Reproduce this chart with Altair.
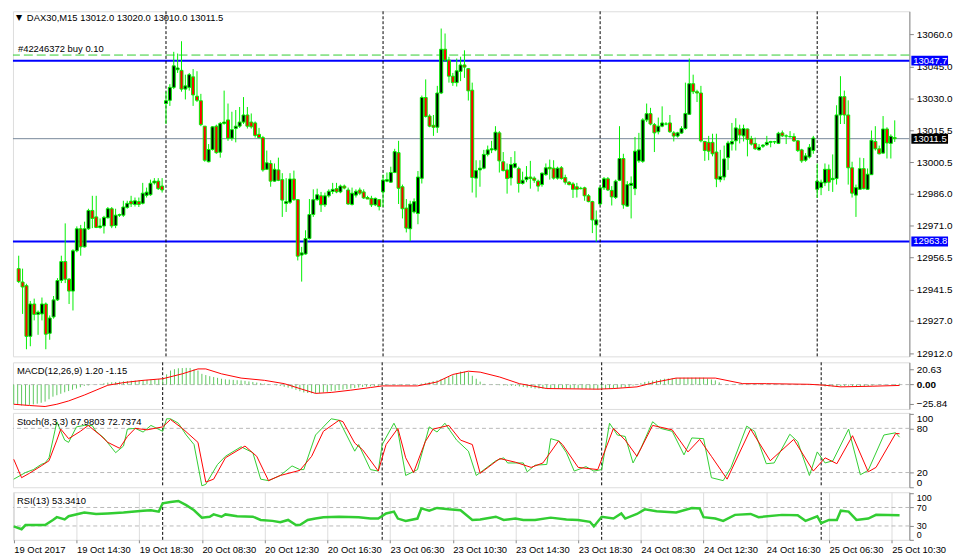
import pandas as pd
import altair as alt

# ---------------- data ----------------
opens = [
12951.2, 12945.0, 12943.3, 12919.8, 12934.8, 12930.0, 12930.2, 12934.8, 12921.2, 12928.8,
12936.7, 12945.7, 12954.5, 12946.3, 12940.8, 12959.5, 12969.7, 12961.3, 12969.7, 12978.2,
12975.2, 12970.3, 12971.0, 12974.8, 12979.0, 12971.2, 12976.0, 12976.0, 12979.6, 12982.5,
12981.0, 12982.3, 12981.5, 12985.2, 12985.5, 12991.0, 12991.8, 12989.5, 13027.8, 13029.3,
13035.3, 13043.5, 13043.2, 13034.5, 13035.3, 13040.2, 13031.2, 13029.1, 13017.3, 13000.8,
13006.5, 13017.3, 13005.2, 13018.6, 13020.2, 13011.7, 13016.2, 13017.3, 13019.2, 13022.5,
13019.2, 13018.8, 13013.5, 13012.0, 12997.3, 13000.0, 12991.8, 12997.0, 12992.5, 12981.4,
12982.0, 12992.8, 12983.2, 12957.5, 12958.0, 12965.2, 12976.3, 12983.2, 12985.0, 12980.8,
12985.0, 12987.0, 12988.3, 12986.8, 12989.5, 12987.7, 12981.0, 12985.3, 12987.7, 12986.8,
12984.2, 12983.8, 12980.8, 12983.2, 12986.8, 12991.8, 12991.3, 12995.8, 13005.0, 12989.2,
12979.3, 12969.7, 12977.5, 12976.8, 12993.1, 13030.6, 13022.0, 13017.7, 13016.8, 13032.7,
13053.0, 13048.0, 13040.5, 13037.5, 13042.7, 13045.7, 13044.0, 13034.0, 12993.2, 12997.0,
12997.8, 13004.2, 13006.3, 13006.3, 13014.2, 13000.8, 12997.0, 12993.3, 12998.2, 12997.6,
12990.7, 12992.5, 12993.7, 12993.2, 12991.8, 12990.2, 12994.8, 12998.2, 12997.8, 12993.2,
12998.0, 12993.5, 12991.3, 12990.5, 12989.2, 12988.5, 12988.7, 12985.0, 12982.3, 12971.5,
12981.2, 12988.7, 12992.9, 12987.5, 12984.2, 12992.2, 13002.3, 12980.2, 12989.8, 12988.3,
13001.2, 13001.0, 13020.2, 13023.1, 13018.0, 13014.7, 13017.3, 13018.3, 13018.8, 13014.2,
13012.7, 13014.1, 13016.2, 13022.8, 13037.0, 13033.3, 13032.7, 13010.2, 13009.8, 13009.8,
13005.3, 12992.5, 12993.7, 13002.7, 13009.0, 13010.5, 13016.0, 13012.8, 13016.0, 13011.5,
13009.3, 13006.3, 13008.0, 13008.7, 13009.8, 13010.0, 13009.3, 13014.2, 13012.8, 13012.5,
13012.5, 13010.5, 13006.3, 13001.5, 13003.0, 13006.0, 12988.0, 12988.8, 12991.0, 12997.3,
12992.5, 12993.0, 13022.5, 13031.0, 13022.5, 12998.0, 12985.3, 12988.0, 12997.6, 12988.0,
12994.8, 13010.2, 13006.8, 13004.8, 13016.0, 13009.3, 13012.0]

highs = [
12957.2, 12951.2, 12944.2, 12936.2, 12937.3, 12931.8, 12937.8, 12935.5, 12929.5, 12938.5,
12946.8, 12957.2, 12972.2, 12946.8, 12960.2, 12970.8, 12971.5, 12973.0, 12979.0, 12985.0,
12985.0, 12974.5, 12975.7, 12979.8, 12979.8, 12979.0, 12976.7, 12982.7, 12982.7, 12985.0,
12984.2, 12984.2, 12991.0, 12988.8, 12992.5, 12993.2, 12993.2, 12993.2, 13033.3, 13036.8,
13051.8, 13051.0, 13056.7, 13041.2, 13042.0, 13043.8, 13042.8, 13032.3, 13017.3, 13009.0,
13017.3, 13018.0, 13019.2, 13033.8, 13027.8, 13024.0, 13024.8, 13026.2, 13030.8, 13026.2,
13023.2, 13019.5, 13016.5, 13012.8, 13006.0, 13001.5, 13000.0, 13002.7, 12995.5, 12993.2,
12995.5, 12996.7, 12983.5, 12961.3, 12969.0, 12983.5, 12988.0, 12988.3, 12986.8, 12986.5,
12988.0, 12991.0, 12991.0, 12990.2, 12990.2, 12988.8, 12988.8, 12988.0, 12988.8, 12988.0,
12985.0, 12985.0, 12984.2, 12983.5, 12994.8, 12995.8, 12998.5, 13006.8, 13010.5, 12990.2,
12983.5, 12982.7, 12983.8, 12996.5, 13031.5, 13039.0, 13022.8, 13022.5, 13036.0, 13062.6,
13060.3, 13049.5, 13042.0, 13048.7, 13049.5, 13052.5, 13044.3, 13037.5, 13001.5, 13001.5,
13006.3, 13008.3, 13010.5, 13017.3, 13015.0, 13005.3, 13000.0, 13003.0, 13005.7, 12998.5,
12996.2, 12998.8, 13001.2, 12994.0, 12992.5, 12995.8, 13000.0, 13001.8, 13001.5, 12998.5,
12998.8, 12994.8, 12991.8, 12991.3, 12991.0, 12989.2, 12989.2, 12985.8, 12982.7, 12978.2,
12989.5, 12993.7, 12993.7, 12989.5, 12992.5, 13017.3, 13004.5, 12991.8, 12994.0, 13012.3,
13014.2, 13021.0, 13027.8, 13025.8, 13018.8, 13021.3, 13026.5, 13019.2, 13022.5, 13015.0,
13014.7, 13017.3, 13037.5, 13048.7, 13041.2, 13034.2, 13036.0, 13010.5, 13012.8, 13013.8,
13013.8, 13006.3, 13008.3, 13010.5, 13018.8, 13021.0, 13018.0, 13018.0, 13016.2, 13012.8,
13012.0, 13009.0, 13009.0, 13012.8, 13010.5, 13010.5, 13014.7, 13015.3, 13013.5, 13015.0,
13014.0, 13010.8, 13006.8, 13004.8, 13009.0, 13012.8, 13000.0, 12992.5, 13000.0, 12999.5,
13004.2, 13027.0, 13040.5, 13033.8, 13029.3, 13000.8, 12990.2, 13002.7, 13002.5, 12997.7,
13015.3, 13017.3, 13008.3, 13022.0, 13016.8, 13013.5, 13020.0]

lows = [
12944.5, 12930.2, 12913.8, 12915.2, 12927.2, 12920.5, 12927.2, 12913.8, 12918.2, 12928.0,
12936.2, 12944.5, 12944.5, 12934.8, 12931.8, 12958.8, 12957.2, 12961.0, 12969.2, 12970.0,
12970.0, 12969.7, 12967.5, 12974.5, 12970.0, 12970.0, 12975.2, 12975.2, 12979.0, 12979.8,
12980.0, 12979.8, 12981.0, 12984.2, 12985.0, 12990.2, 12987.7, 12986.5, 13018.3, 13026.7,
13034.5, 13042.0, 13033.3, 13029.7, 13033.8, 13026.7, 13028.5, 13017.3, 13000.8, 13000.5,
13006.0, 13004.5, 13002.7, 13018.0, 13010.5, 13010.5, 13009.8, 13016.5, 13018.3, 13016.2,
13016.2, 13012.0, 13011.7, 12996.2, 12997.0, 12989.2, 12991.5, 12991.8, 12975.2, 12977.5,
12981.2, 12982.7, 12955.0, 12945.2, 12957.7, 12964.7, 12975.2, 12982.7, 12977.5, 12979.8,
12984.2, 12985.8, 12986.2, 12986.2, 12988.0, 12980.8, 12980.5, 12984.2, 12985.3, 12983.5,
12983.5, 12979.8, 12980.2, 12978.2, 12979.8, 12991.3, 12991.0, 12995.5, 12981.2, 12974.5,
12968.0, 12964.0, 12976.8, 12971.8, 12990.7, 13021.3, 13016.8, 13012.8, 13014.2, 13032.2,
13047.2, 13037.5, 13036.0, 13035.7, 13038.2, 13039.7, 13029.2, 12986.5, 12984.2, 12989.2,
12997.3, 13003.3, 13004.8, 13005.7, 12995.8, 12996.3, 12986.0, 12989.8, 12997.7, 12986.5,
12990.2, 12991.3, 12988.3, 12991.0, 12987.0, 12989.2, 12994.3, 12992.5, 12992.5, 12992.5,
12992.5, 12990.2, 12989.8, 12984.0, 12984.2, 12988.0, 12982.7, 12982.0, 12967.7, 12963.7,
12980.5, 12987.7, 12987.2, 12980.5, 12983.5, 12991.8, 12979.0, 12979.8, 12974.5, 12985.3,
13000.3, 13000.3, 13019.2, 13017.7, 13005.3, 13013.5, 13016.8, 13017.7, 13014.2, 13010.2,
13012.0, 13013.8, 13015.7, 13022.5, 13032.2, 13028.5, 13009.8, 13001.2, 13001.5, 13003.3,
12989.0, 12991.3, 12992.2, 12997.0, 13006.0, 13006.0, 13009.3, 13010.2, 13003.3, 13008.3,
13006.3, 13006.0, 13007.2, 13008.2, 13007.5, 13009.0, 13009.0, 13012.3, 13009.0, 13012.0,
13010.0, 13005.3, 13000.3, 13000.8, 13002.3, 13004.5, 12984.0, 12985.3, 12989.5, 12987.2,
12986.8, 12990.2, 13018.3, 13018.3, 12990.2, 12984.2, 12975.2, 12988.0, 12988.0, 12987.7,
12994.8, 13006.0, 13004.2, 13004.5, 13002.3, 13002.3, 13010.0]

closes = [
12945.2, 12942.7, 12919.8, 12934.8, 12930.0, 12931.0, 12934.8, 12920.8, 12928.3, 12936.7,
12945.7, 12954.5, 12946.3, 12940.8, 12959.5, 12969.7, 12961.3, 12969.7, 12978.2, 12974.5,
12970.3, 12971.0, 12975.0, 12979.0, 12971.0, 12976.0, 12976.3, 12979.8, 12981.5, 12981.2,
12982.7, 12981.0, 12986.2, 12986.7, 12990.8, 12991.8, 12988.3, 12987.7, 13029.1, 13035.3,
13045.3, 13044.3, 13034.5, 13036.0, 13041.2, 13031.8, 13029.3, 13018.0, 13001.5, 13006.5,
13017.0, 13005.0, 13018.6, 13019.2, 13011.7, 13015.7, 13017.3, 13019.2, 13022.5, 13017.3,
13017.0, 13013.0, 13012.0, 12997.0, 13000.3, 12991.8, 12997.3, 12992.2, 12983.0, 12982.3,
12992.8, 12983.2, 12957.0, 12958.5, 12965.2, 12976.3, 12983.2, 12985.5, 12980.8, 12985.0,
12987.1, 12988.0, 12986.8, 12989.5, 12988.6, 12981.2, 12986.2, 12987.1, 12986.2, 12984.0,
12983.5, 12980.8, 12983.8, 12980.0, 12992.3, 12992.5, 12995.8, 13005.5, 12988.5, 12979.0,
12970.0, 12981.2, 12982.3, 12993.7, 13030.6, 13021.8, 13017.3, 13016.8, 13032.7, 13053.0,
13048.0, 13040.5, 13037.5, 13043.0, 13045.7, 13044.7, 13033.7, 12993.5, 12996.7, 12997.8,
13004.2, 13006.3, 13006.8, 13014.5, 13001.2, 12996.7, 12993.0, 12999.5, 13000.0, 12990.7,
12992.2, 12993.7, 12993.0, 12992.2, 12989.5, 12995.5, 12998.0, 12997.5, 12993.2, 12997.8,
12993.0, 12991.3, 12990.2, 12988.0, 12988.0, 12988.3, 12985.0, 12982.3, 12973.8, 12973.8,
12988.7, 12992.9, 12987.7, 12984.5, 12991.8, 13002.3, 12980.8, 12990.2, 12990.8, 13005.7,
13006.3, 13020.2, 13023.1, 13018.3, 13014.2, 13017.3, 13018.8, 13018.3, 13014.7, 13012.7,
13014.2, 13016.2, 13023.2, 13037.0, 13033.3, 13032.7, 13010.5, 13006.0, 13005.7, 13004.5,
12992.8, 12994.0, 13002.1, 13009.5, 13010.2, 13016.5, 13013.2, 13016.2, 13011.2, 13009.0,
13006.8, 13007.5, 13008.5, 13009.8, 13010.2, 13010.1, 13014.0, 13012.8, 13012.7, 13012.4,
13010.5, 13006.0, 13001.2, 13003.5, 13007.5, 13011.8, 12991.8, 12991.3, 12997.3, 12991.3,
12993.1, 13022.5, 13031.0, 13022.5, 12998.0, 12986.2, 12988.8, 12997.6, 12988.3, 12995.0,
13010.8, 13006.8, 13004.5, 13016.0, 13009.5, 13012.6, 13011.5]

# MACD main (histogram), one value per bar
macd_hist = [
-26.8, -27.5, -28.5, -28.2, -27.7, -27.0, -26.0, -24.8, -23.2, -20.0,
-16.5, -14.5, -12.5, -10.5, -8.8, -7.0, -5.4, -3.6, -1.8, -1.2,
-0.5, 0.0, 0.9, 1.8, 2.7, 3.2, 3.6, 4.0, 4.5, 4.8,
5.2, 5.5, 5.8, 6.1, 6.4, 6.8, 7.1, 7.5, 8.9, 14.0,
19.2, 21.0, 22.3, 22.6, 22.8, 22.7, 21.0, 19.2, 14.7, 13.0,
11.5, 10.3, 9.2, 8.0, 7.1, 6.8, 6.4, 6.0, 5.8, 5.1,
4.3, 3.6, 2.8, 2.0, 1.3, 0.5, -0.3, -1.0, -1.8, -3.0,
-4.2, -5.4, -7.2, -9.0, -10.7, -11.5, -11.8, -12.0, -11.4, -10.7,
-9.9, -9.0, -8.3, -7.6, -6.9, -6.1, -5.4, -4.6, -3.9, -3.1,
-2.8, -2.4, -2.1, -1.8, -0.9, -0.9, -0.9, -0.9, -0.9, -0.9,
-0.9, -0.9, -0.2, 0.5, 1.3, 2.4, 3.5, 4.7, 5.8, 7.3,
8.8, 10.3, 12.8, 15.3, 17.8, 17.5, 17.0, 12.0, 8.0, 4.0,
1.0, 0.0, -0.3, -0.5, -0.8, -1.0, -1.3, -1.5, -1.8, -2.5,
-3.2, -4.0, -4.7, -5.4, -5.4, -5.4, -5.4, -5.4, -5.4, -5.4,
-5.4, -5.4, -5.4, -5.4, -5.4, -5.7, -6.0, -6.2, -6.5, -6.7,
-6.4, -6.0, -5.7, -5.4, -4.8, -4.2, -3.6, -3.1, -1.4, 0.3,
2.0, 3.6, 4.5, 5.4, 6.2, 7.1, 8.0, 8.3, 8.6, 8.9,
9.2, 9.4, 9.4, 9.4, 9.4, 9.4, 9.4, 8.2, 7.0, 5.8,
3.0, 0.0, 0.5, 0.5, 0.5, 0.5, 0.5, 0.5, 0.5, 0.5,
0.5, 0.5, 0.5, 0.5, 0.5, 0.5, 0.5, 0.5, 0.5, 0.5,
0.5, 0.5, 0.5, 0.3, 0.0, -0.5, -1.5, -2.5, -2.5, -2.5,
-2.5, -2.5, -2.0, -1.5, -2.0, -2.5, -2.5, -2.5, -2.0, -1.5,
-1.0, -0.5, -0.5, 0.0, 0.5, 0.8, 1.2]

# MACD signal line (bar index, value)
sig_idx = [0, 4, 8, 11, 14, 18, 21, 24, 28, 33, 38, 43, 47, 49, 53, 58, 64, 69, 73, 77,
           81, 86, 91, 94, 103, 108, 112, 116, 119, 124, 129, 136, 149, 153, 159, 164, 169, 179, 186, 192,
           203, 207, 211, 219, 226]
sig_val = [-26.8, -28.5, -29.9, -26.8, -22.3, -14.3, -7.6, -0.9, 2.7, 5.8, 8.0, 14.7, 21.4, 21.4, 14.7, 8.9, 5.8, 1.3, -5.4, -12.0,
           -10.7, -7.6, -4.0, -1.8, -1.8, 3.6, 13.8, 18.3, 17.0, 10.3, 1.3, -5.4, -6.2, -5.4, -3.1, 3.6, 8.9, 8.9, 1.3, 1.3,
           0.4, -0.9, -3.1, -2.2, -1.15]

# Stochastic %K (green)
stk_idx = [0, 3, 5, 7, 8, 9, 11, 13, 14, 16, 18, 20, 21, 23, 26, 28, 29, 31, 33, 35,
           38, 39, 40, 42, 44, 46, 48, 49, 52, 54, 58, 61, 63, 65, 68, 71, 73, 74, 77, 79,
           81, 83, 87, 88, 91, 93, 94, 97, 98, 100, 103, 106, 108, 110, 113, 116, 118, 119, 123, 125,
           126, 130, 131, 133, 136, 137, 139, 141, 143, 146, 148, 150, 152, 154, 156, 158, 160, 163, 165, 168,
           171, 173, 176, 178, 181, 183, 187, 189, 192, 194, 198, 200, 203, 205, 207, 209, 213, 216, 218, 222,
           225, 226]
stk_val = [11, 20, 24, 31, 33, 40, 89, 64, 61, 82, 84, 84, 76, 67, 47, 56, 79, 80, 75, 84,
           76, 93, 93, 87, 71, 58, 2, 4, 31, 42, 55, 47, 11, 9, 16, 29, 24, 24, 71, 82,
           93, 91, 49, 58, 24, 22, 58, 87, 76, 16, 24, 82, 75, 87, 64, 49, 16, 20, 36, 40,
           33, 33, 21, 30, 31, 66, 63, 47, 22, 28, 22, 24, 87, 71, 69, 33, 53, 89, 80, 76,
           44, 67, 66, 13, 9, 27, 83, 76, 32, 33, 72, 62, 16, 48, 33, 36, 79, 17, 23, 71,
           74, 67.98]

# Stochastic %D (red)
std_idx = [0, 2, 4, 7, 9, 11, 12, 14, 17, 19, 22, 24, 27, 29, 31, 34, 38, 40, 43, 47,
           49, 51, 54, 59, 62, 65, 68, 73, 76, 79, 83, 84, 87, 89, 93, 95, 98, 100, 102, 105,
           107, 111, 114, 117, 119, 124, 128, 132, 135, 139, 140, 144, 149, 153, 156, 159, 163, 168, 172, 175,
           178, 182, 188, 193, 199, 204, 207, 210, 214, 218, 220, 225, 226]
std_val = [38, 13, 19, 29, 36, 64, 79, 66, 76, 84, 71, 61, 53, 69, 80, 78, 82, 92, 80, 61,
           7, 11, 40, 56, 42, 9, 16, 23, 42, 76, 91, 89, 60, 51, 22, 58, 80, 40, 20, 62,
           79, 84, 64, 58, 19, 39, 34, 27, 33, 63, 58, 27, 24, 80, 64, 42, 84, 78, 48, 65,
           42, 11, 79, 36, 65, 22, 40, 32, 70, 21, 27, 73, 72.74]

# RSI(13)
rsi_idx = [0, 2, 3, 8, 10, 11, 13, 14, 18, 21, 24, 28, 33, 35, 37, 38, 40, 42, 44, 46,
           48, 50, 51, 53, 54, 57, 61, 63, 66, 68, 70, 72, 73, 75, 77, 79, 83, 88, 91, 93,
           95, 97, 98, 100, 103, 104, 106, 108, 111, 114, 117, 119, 123, 125, 128, 130, 133, 137, 141, 144,
           147, 148, 150, 153, 155, 156, 159, 161, 164, 169, 173, 175, 176, 179, 181, 184, 188, 190, 196, 200,
           202, 205, 206, 208, 210, 211, 213, 215, 218, 220, 226]
rsi_val = [29, 23, 32, 32, 43, 49, 44, 51, 59, 56, 57, 59, 63, 64, 61, 79, 82, 84, 75, 64,
           48, 50, 55, 50, 55, 51, 50, 43, 41, 38, 43, 32, 32, 43, 46, 49, 50, 49, 46, 46,
           57, 61, 46, 41, 46, 68, 63, 69, 66, 64, 43, 44, 50, 43, 46, 43, 43, 48, 44, 43,
           39, 29, 50, 46, 57, 46, 56, 66, 62, 59, 69, 68, 49, 46, 41, 54, 56, 49, 54, 53,
           41, 51, 36, 43, 43, 63, 61, 43, 46, 54, 53.34]

separators = [38, 94, 150, 206]
tick_idx = [0, 16, 32, 48, 64, 80, 96, 112, 128, 144, 160, 176, 192, 208, 224]
tick_labels = ["19 Oct 2017", "19 Oct 14:30", "19 Oct 18:30", "20 Oct 08:30", "20 Oct 12:30",
               "20 Oct 16:30", "23 Oct 06:30", "23 Oct 10:30", "23 Oct 14:30", "23 Oct 18:30",
               "24 Oct 08:30", "24 Oct 12:30", "24 Oct 16:30", "25 Oct 06:30", "25 Oct 10:30"]
price_ticks = [13060.0, 13045.0, 13030.0, 13015.5, 13000.5, 12986.0, 12971.0,
               12956.5, 12941.5, 12927.0, 12912.0]
level_prices = [13047.7, 12963.8]
order_price = 13050.3
last_price = 13011.5
header_text = "DAX30,M15  13012.0 13020.0 13010.0 13011.5"
order_text = "#42246372 buy 0.10"
macd_text = "MACD(12,26,9) 1.20 -1.15"
stoch_text = "Stoch(8,3,3) 67.9803 72.7374"
rsi_text = "RSI(13) 53.3410"

# ---------------- layout / style ----------------
W = 904
H_MAIN, H_MACD, H_STOCH, H_RSI = 348, 47, 75, 48
FONT = "Liberation Sans"
FS = 9.5
CANDLE_GREEN = "#00f000"
LINE_GREEN = "#32cd32"

n = min(len(opens), len(highs), len(lows), len(closes))
candles = pd.DataFrame({
    "i": list(range(n)), "open": opens[:n], "high": highs[:n],
    "low": lows[:n], "close": closes[:n]})
candles["dir"] = ["up" if c >= o else "down" for o, c in zip(candles["open"], candles["close"])]

xscale = alt.Scale(domain=[-0.2, 228.5], nice=False, zero=False)
X_NO = alt.X("i:Q", scale=xscale, axis=None)

x_axis_bottom = alt.Axis(
    values=tick_idx,
    labelExpr="[" + ",".join("'%s'" % t for t in tick_labels) + "][indexof(["
              + ",".join(str(t) for t in tick_idx) + "], datum.value)]",
    labelAlign="left", labelBaseline="top", labelPadding=2, tickSize=3,
    labelFlush=False, labelOverlap=False, domain=False, title=None,
    labelFont=FONT, labelFontSize=FS)
X_BOT = alt.X("i:Q", scale=xscale, axis=x_axis_bottom)


def sep_layer(X):
    return alt.Chart(pd.DataFrame({"i": separators})).mark_rule(
        color="black", strokeDash=[3, 2], strokeWidth=1).encode(x=X)


def label_text(txt, x, y, size=FS, font=FONT):
    return alt.Chart(pd.DataFrame({"t": [txt]})).mark_text(
        align="left", baseline="middle", font=font, fontSize=size, color="black"
    ).encode(x=alt.value(x), y=alt.value(y), text="t:N")


# ---------- main price panel ----------
ymain = alt.Scale(domain=[12910.5, 13070.6], nice=False, zero=False)
ax_main = alt.Axis(orient="right", values=price_ticks, format=".1f", tickSize=4,
                   labelPadding=3, title=None, grid=False, labelFlush=False,
                   labelOverlap=False)


def YM(field):
    return alt.Y(field, scale=ymain, axis=ax_main, title=None)


levels = alt.Chart(pd.DataFrame({"p": level_prices})).mark_rule(
    color="#0000ff", strokeWidth=2).encode(y=YM("p:Q"))
order_line = alt.Chart(pd.DataFrame({"p": [order_price]})).mark_rule(
    color=LINE_GREEN, strokeWidth=1, strokeDash=[9, 4]).encode(y=YM("p:Q"))
last_line = alt.Chart(pd.DataFrame({"p": [last_price]})).mark_rule(
    color="#778899", strokeWidth=1).encode(y=YM("p:Q"))

wicks = alt.Chart(candles).mark_rule(color=CANDLE_GREEN, strokeWidth=1).encode(
    x=X_NO, y=YM("low:Q"), y2="high:Q")
bodies = alt.Chart(candles).mark_bar(width=3, stroke=CANDLE_GREEN, strokeWidth=1).encode(
    x=X_NO, y=YM("open:Q"), y2="close:Q",
    fill=alt.Fill("dir:N", scale=alt.Scale(domain=["up", "down"], range=["black", "red"]),
                  legend=None))

boxes = pd.DataFrame({"p": level_prices + [last_price],
                      "bg": ["#0000ff"] * len(level_prices) + ["#000000"]})
boxes["lo"] = boxes["p"] - 2.3
boxes["hi"] = boxes["p"] + 2.3
box_rect = alt.Chart(boxes).mark_rect().encode(
    x=alt.value(W + 2), x2=alt.value(W + 39), y=YM("lo:Q"), y2="hi:Q",
    color=alt.Color("bg:N", scale=None))
box_text = alt.Chart(boxes).mark_text(
    align="left", baseline="middle", color="white", font=FONT, fontSize=FS).encode(
    x=alt.value(W + 4), y=YM("p:Q"), text=alt.Text("p:Q", format=".1f"))

order_label = alt.Chart(pd.DataFrame({"p": [order_price], "t": [order_text]})).mark_text(
    align="left", baseline="bottom", font=FONT, fontSize=FS, color="black", dy=-1).encode(
    x=alt.value(5), y=YM("p:Q"), text="t:N")

main = alt.layer(
    last_line, levels, order_line, sep_layer(X_NO), wicks, bodies,
    box_rect, box_text, order_label,
    label_text("\u25bc", 3, 7, size=8, font="DejaVu Sans"),
    label_text(header_text, 14, 7),
).properties(width=W, height=H_MAIN)

# ---------- MACD panel ----------
ymacd = alt.Scale(domain=[-33.2, 30.4], nice=False, zero=False)
ax_macd = alt.Axis(orient="right", values=[20.63, 0, -25.84], format=".2f", tickSize=4,
                   labelPadding=3, title=None, grid=False, labelOverlap=False,
                   labelFontWeight={"condition": {"test": "datum.value == 0", "value": "bold"},
                                    "value": "normal"})


def YC(field):
    return alt.Y(field, scale=ymacd, axis=ax_macd, title=None)


macd_df = pd.DataFrame({"i": list(range(len(macd_hist))), "v": macd_hist})
sig_df = pd.DataFrame({"i": sig_idx[:len(sig_val)], "v": sig_val[:len(sig_idx)]})
macd_zero = alt.Chart(pd.DataFrame({"v": [0.0]})).mark_rule(
    color="#b8b8b8", strokeDash=[4, 3]).encode(y=YC("v:Q"))
macd_bars = alt.Chart(macd_df).mark_rule(color="#5fc85f", strokeWidth=1).encode(
    x=X_NO, y=YC("v:Q"), y2=alt.datum(0))
macd_sig = alt.Chart(sig_df).mark_line(color="red", strokeWidth=1).encode(
    x=X_NO, y=YC("v:Q"))
macd = alt.layer(macd_zero, sep_layer(X_NO), macd_bars, macd_sig,
                 label_text(macd_text, 4, 9)).properties(width=W, height=H_MACD)

# ---------- Stochastic panel ----------
ystoch = alt.Scale(domain=[0, 101], nice=False, zero=False)
ax_stoch = alt.Axis(orient="right", values=[0, 20, 80, 100], format="d", tickSize=4,
                    labelPadding=3, title=None, grid=False, labelFlush=3, labelOverlap=False)


def YS(field):
    return alt.Y(field, scale=ystoch, axis=ax_stoch, title=None)


stoch_lv = alt.Chart(pd.DataFrame({"v": [20, 80]})).mark_rule(
    color="#b8b8b8", strokeDash=[4, 3]).encode(y=YS("v:Q"))
stk = alt.Chart(pd.DataFrame({"i": stk_idx[:len(stk_val)], "v": stk_val[:len(stk_idx)]})).mark_line(
    color=LINE_GREEN, strokeWidth=1).encode(x=X_NO, y=YS("v:Q"))
std = alt.Chart(pd.DataFrame({"i": std_idx[:len(std_val)], "v": std_val[:len(std_idx)]})).mark_line(
    color="red", strokeWidth=1).encode(x=X_NO, y=YS("v:Q"))
stoch = alt.layer(stoch_lv, sep_layer(X_NO), stk, std,
                  label_text(stoch_text, 4, 9)).properties(width=W, height=H_STOCH)

# ---------- RSI panel ----------
yrsi = alt.Scale(domain=[0, 103], nice=False, zero=False)
ax_rsi = alt.Axis(orient="right", values=[0, 30, 70, 100], format="d", tickSize=4,
                  labelPadding=3, title=None, grid=False, labelFlush=3, labelOverlap=False,
                  labelFontSize=9)


def YR(field):
    return alt.Y(field, scale=yrsi, axis=ax_rsi, title=None)


rsi_lv = alt.Chart(pd.DataFrame({"v": [30, 70]})).mark_rule(
    color="#b8b8b8", strokeDash=[4, 3]).encode(y=YR("v:Q"))
rsi_line = alt.Chart(pd.DataFrame({"i": rsi_idx[:len(rsi_val)], "v": rsi_val[:len(rsi_idx)]})).mark_line(
    color=LINE_GREEN, strokeWidth=2.5).encode(x=X_BOT, y=YR("v:Q"))
rsi = alt.layer(rsi_lv, sep_layer(X_BOT), rsi_line,
                label_text(rsi_text, 4, 9)).properties(width=W, height=H_RSI)

chart = alt.vconcat(main, macd, stoch, rsi, spacing=2).properties(
    padding={"left": 0, "top": 0, "right": 0, "bottom": 0}, background="white"
).configure_view(stroke="black", strokeWidth=1).configure_axis(
    labelFont=FONT, labelFontSize=FS, labelColor="black", domainColor="black",
    tickColor="black", grid=False
).configure(font=FONT)

chart.save("out.html", embed_options={"renderer": "svg", "actions": False})
